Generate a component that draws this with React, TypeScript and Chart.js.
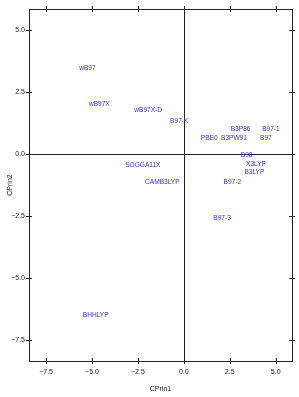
import React, { useEffect, useRef } from "react";
import { Chart, registerables } from "chart.js";

Chart.register(...registerables);

const methods = [
  "wB97", "wB97X", "wB97X-D", "B97-K", "B3P86", "B97-1", "PBE0", "B3PW91", "B97",
  "B98", "X3LYP", "B3LYP", "B97-2", "SOGGA11X", "CAMB3LYP", "B97-3", "BHHLYP",
];
const prin1 = [
  -5.25, -4.6, -1.94, -0.25, 3.09, 4.74, 1.38, 2.73, 4.47,
  3.42, 3.93, 3.84, 2.64, -2.23, -1.17, 2.08, -4.8,
];
const prin2 = [
  3.49, 2.04, 1.77, 1.36, 1.03, 1.03, 0.66, 0.66, 0.66,
  -0.02, -0.41, -0.72, -1.13, -0.43, -1.13, -2.57, -6.49,
];
const xTicks = [-7.5, -5.0, -2.5, 0.0, 2.5, 5.0];
const yTicks = [-7.5, -5.0, -2.5, 0.0, 2.5, 5.0];

const FONT = "'Liberation Sans', Arial, Helvetica, sans-serif";
const LINE = "#222222";
const LABEL_COLOR = "#3030f0";

const fmt = (v: number) => (v < 0 ? "\u2212" : "") + Math.abs(v).toFixed(1);

const framePlugin = {
  id: "frameAndLabels",
  afterDatasetsDraw(chart: any) {
    const { ctx, chartArea, scales } = chart;
    const { left, right, top, bottom } = chartArea;
    const xs = scales.x;
    const ys = scales.y;
    ctx.save();
    ctx.strokeStyle = LINE;
    ctx.lineWidth = 1;
    ctx.strokeRect(Math.round(left) + 0.5, Math.round(top) + 0.5, Math.round(right - left), Math.round(bottom - top));
    const x0 = Math.round(xs.getPixelForValue(0)) + 0.5;
    const y0 = Math.round(ys.getPixelForValue(0)) + 0.5;
    ctx.beginPath();
    ctx.moveTo(x0, top);
    ctx.lineTo(x0, bottom);
    ctx.moveTo(left, y0);
    ctx.lineTo(right, y0);
    for (const v of xTicks) {
      const px = Math.round(xs.getPixelForValue(v)) + 0.5;
      ctx.moveTo(px, top - 3);
      ctx.lineTo(px, top + 3);
      ctx.moveTo(px, bottom - 3);
      ctx.lineTo(px, bottom + 3);
    }
    for (const v of yTicks) {
      const py = Math.round(ys.getPixelForValue(v)) + 0.5;
      ctx.moveTo(left - 3, py);
      ctx.lineTo(left + 3, py);
      ctx.moveTo(right - 3, py);
      ctx.lineTo(right + 3, py);
    }
    ctx.stroke();
    ctx.fillStyle = LABEL_COLOR;
    ctx.font = `8px ${FONT}`;
    ctx.textAlign = "center";
    ctx.textBaseline = "middle";
    for (let i = 0; i < methods.length; i++) {
      ctx.save();
      ctx.translate(xs.getPixelForValue(prin1[i]), ys.getPixelForValue(prin2[i]));
      ctx.scale(0.82, 1);
      ctx.fillText(methods[i], 0, 0);
      ctx.restore();
    }
    ctx.restore();
  },
};

export default function App() {
  const ref = useRef<HTMLCanvasElement | null>(null);
  useEffect(() => {
    if (!ref.current) return;
    const chart = new Chart(ref.current, {
      type: "scatter",
      data: {
        datasets: [
          {
            label: "methods",
            data: methods.map((_, i) => ({ x: prin1[i], y: prin2[i] })),
            pointRadius: 0,
            pointHoverRadius: 0,
            showLine: false,
          },
        ],
      },
      options: {
        responsive: false,
        animation: false,
        layout: { padding: { top: 9, right: 7, left: 0, bottom: 0 } },
        plugins: { legend: { display: false }, tooltip: { enabled: false } },
        scales: {
          x: {
            type: "linear",
            min: -8.43,
            max: 5.89,
            grid: { display: false, drawTicks: false },
            border: { display: false },
            afterBuildTicks: (axis: any) => {
              axis.ticks = xTicks.map((v) => ({ value: v }));
            },
            afterFit: (axis: any) => {
              axis.height = 36;
            },
            ticks: {
              padding: 7,
              color: LINE,
              font: { family: FONT, size: 7 },
              maxRotation: 0,
              autoSkip: false,
              callback: (v: any) => fmt(Number(v)),
            },
            title: {
              display: true,
              text: "CPrin1",
              color: LINE,
              font: { family: FONT, size: 7 },
              padding: { top: 0, bottom: 4 },
            },
          },
          y: {
            type: "linear",
            min: -8.36,
            max: 5.86,
            grid: { display: false, drawTicks: false },
            border: { display: false },
            afterBuildTicks: (axis: any) => {
              axis.ticks = yTicks.map((v) => ({ value: v }));
            },
            afterFit: (axis: any) => {
              axis.width = 29;
            },
            ticks: {
              padding: 4,
              color: LINE,
              font: { family: FONT, size: 7 },
              autoSkip: false,
              callback: (v: any) => fmt(Number(v)),
            },
            title: {
              display: true,
              text: "CPrin2",
              color: LINE,
              font: { family: FONT, size: 7 },
              padding: { top: 6, bottom: 0 },
            },
          },
        },
      },
      plugins: [framePlugin],
    });
    return () => chart.destroy();
  }, []);
  return (
    <div style={{ position: "fixed", left: 0, top: 0, width: 299, height: 397, background: "#fff" }}>
      <canvas ref={ref} width={299} height={397} style={{ display: "block" }} />
    </div>
  );
}
